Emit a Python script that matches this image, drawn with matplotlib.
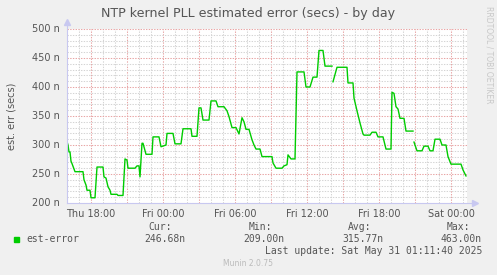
import numpy as np
import matplotlib
matplotlib.use("Agg")
import matplotlib.pyplot as plt
from matplotlib.ticker import MultipleLocator, FixedLocator

# minutes after Thu 16:00 (5 min per sample), value in nanoseconds
minutes = [0, 5, 10, 15, 20, 25, 40, 80, 85, 95, 100, 115, 120, 140, 150, 180,
           185, 195, 205, 215, 220, 250, 255, 280, 290, 300, 305, 340, 350, 360,
           365, 375, 380, 395, 425, 430, 460, 470, 495, 500, 530, 540, 570, 580,
           620, 625, 650, 660, 670, 680, 710, 720, 745, 755, 785, 800, 810, 825,
           845, 860, 875, 885, 895, 910, 925, 935, 945, 965, 975, 1025, 1030,
           1045, 1075, 1085, 1100, 1105, 1120, 1140, 1150, 1185, 1195, 1215,
           1230, 1250, 1260, 1280, 1290, 1325, 1327, 1330, 1350, 1400, 1405,
           1430, 1435, 1450, 1465, 1480, 1485, 1515, 1525, 1545, 1555, 1580,
           1595, 1620, 1625, 1635, 1645, 1655, 1665, 1685, 1695, 1730, 1732,
           1735, 1750, 1775, 1785, 1805, 1815, 1830, 1840, 1865, 1875, 1895,
           1905, 1920, 1970, 1980, 1995]
est_error = [306, 300, 288, 288, 272, 268, 254, 254, 240, 231, 222, 222, 209, 209,
             262, 262, 245, 243, 228, 222, 215, 215, 213, 213, 276, 274, 260, 260,
             264, 264, 245, 303, 303, 284, 284, 314, 314, 297, 300, 320, 320, 302,
             302, 328, 328, 315, 315, 364, 364, 343, 343, 376, 376, 366, 366, 359,
             349, 330, 330, 319, 347, 340, 327, 327, 309, 300, 293, 293, 280, 280,
             269, 260, 260, 264, 266, 283, 276, 276, 426, 426, 400, 400, 417, 417,
             463, 463, 436, 436, np.nan, 409, 434, 434, 407, 407, 381, 359, 338,
             319, 317, 317, 322, 322, 314, 314, 293, 293, 391, 389, 366, 362, 346,
             346, 324, 324, np.nan, 305, 290, 290, 298, 298, 290, 290, 310, 310,
             300, 300, 280, 267, 267, 257, 246.68]

start_hour = 16
span_hours = 400 * 5 / 60
tick_hours = [18, 24, 30, 36, 42, 48]
tick_labels = ["Thu 18:00", "Fri 00:00", "Fri 06:00", "Fri 12:00", "Fri 18:00", "Sat 00:00"]
y_ticks = [200, 250, 300, 350, 400, 450, 500]

legend_name = "est-error"
stat_heads = ["Cur:", "Min:", "Avg:", "Max:"]
stat_vals = ["246.68n", "209.00n", "315.77n", "463.00n"]

W, H = 497, 275
BG = "#F0F0F0"
TXT = "#555555"
LINE = "#00CC00"

fig = plt.figure(figsize=(W / 100, H / 100), dpi=100, facecolor=BG)
ax = fig.add_axes([67 / W, (H - 203) / H, 400 / W, 174 / H])
ax.set_facecolor("white")

hours = start_hour + np.array(minutes) / 60
ax.plot(hours, est_error, color=LINE, lw=1.0, zorder=3)

ax.set_xlim(start_hour, start_hour + span_hours)
ax.set_ylim(200, 500)

# grids: minor gray every hour / 10n, major red every 3 hours / 50n
ax.xaxis.set_minor_locator(MultipleLocator(1))
ax.xaxis.set_major_locator(FixedLocator(np.arange(18, 50, 3)))
ax.yaxis.set_minor_locator(MultipleLocator(10))
ax.yaxis.set_major_locator(FixedLocator(y_ticks))
ax.grid(which="minor", color="#D4D4D4", lw=0.75, ls=(0, (1.3, 1.3)), zorder=1)
ax.grid(which="major", color="#E8A4A4", lw=0.75, ls=(0, (1.3, 1.3)), zorder=2)

ax.set_xticklabels([])
ax.set_yticklabels([])
ax.tick_params(which="both", length=0)
for s in ax.spines.values():
    s.set_visible(False)

# axis lines with arrowheads
axc = "#C8C8F0"
ax.plot([0, 1.02], [0, 0], transform=ax.transAxes, color=axc, lw=0.8, clip_on=False, zorder=4)
ax.plot([0, 0], [0, 1.04], transform=ax.transAxes, color=axc, lw=0.8, clip_on=False, zorder=4)
ax.plot([1.02], [0], transform=ax.transAxes, marker=">", color=axc, ms=4, clip_on=False, zorder=4)
ax.plot([0], [1.04], transform=ax.transAxes, marker="^", color=axc, ms=4, clip_on=False, zorder=4)

# tick labels
for h, lab in zip(tick_hours, tick_labels):
    ax.text(h, -0.035, lab, transform=ax.get_xaxis_transform(), ha="center", va="top",
            fontsize=7, color=TXT)
for v in y_ticks:
    ax.text(-0.018, v, f"{v} n", transform=ax.get_yaxis_transform(), ha="right",
            va="center", fontsize=7, color=TXT)


def ft(x, y, s, **kw):
    fig.text(x / W, 1 - y / H, s, **kw)


ft(248, 14, "NTP kernel PLL estimated error (secs) - by day", ha="center", va="center",
   fontsize=9.1, color=TXT)
ft(12, 116, "est. err (secs)", ha="center", va="center", rotation=90, fontsize=7, color=TXT)
ft(489, 6, "RRDTOOL / TOBI OETIKER", ha="center", va="top", rotation=270,
   fontsize=5.5, color="#C8C8C8")

mono = "DejaVu Sans Mono"
fig.patches.append(plt.Rectangle((14 / W, 1 - 242 / H), 5 / W, 5 / H,
                                 transform=fig.transFigure, color=LINE))
ft(26, 239, legend_name, ha="left", va="center", fontsize=7, color=TXT, family=mono)
head_right = [172, 272, 371, 470]
val_right = [185, 284, 383, 482]
for hx, hd in zip(head_right, stat_heads):
    ft(hx, 227, hd, ha="right", va="center", fontsize=7, color=TXT, family=mono)
for vx, vl in zip(val_right, stat_vals):
    ft(vx, 239, vl, ha="right", va="center", fontsize=7, color=TXT, family=mono)
ft(482, 251, "Last update: Sat May 31 01:11:40 2025", ha="right", va="center",
   fontsize=7, color=TXT, family=mono)
ft(248, 264, "Munin 2.0.75", ha="center", va="center", fontsize=5.5, color="#BBBBBB")

fig.savefig("out.png", dpi=100, facecolor=BG)
